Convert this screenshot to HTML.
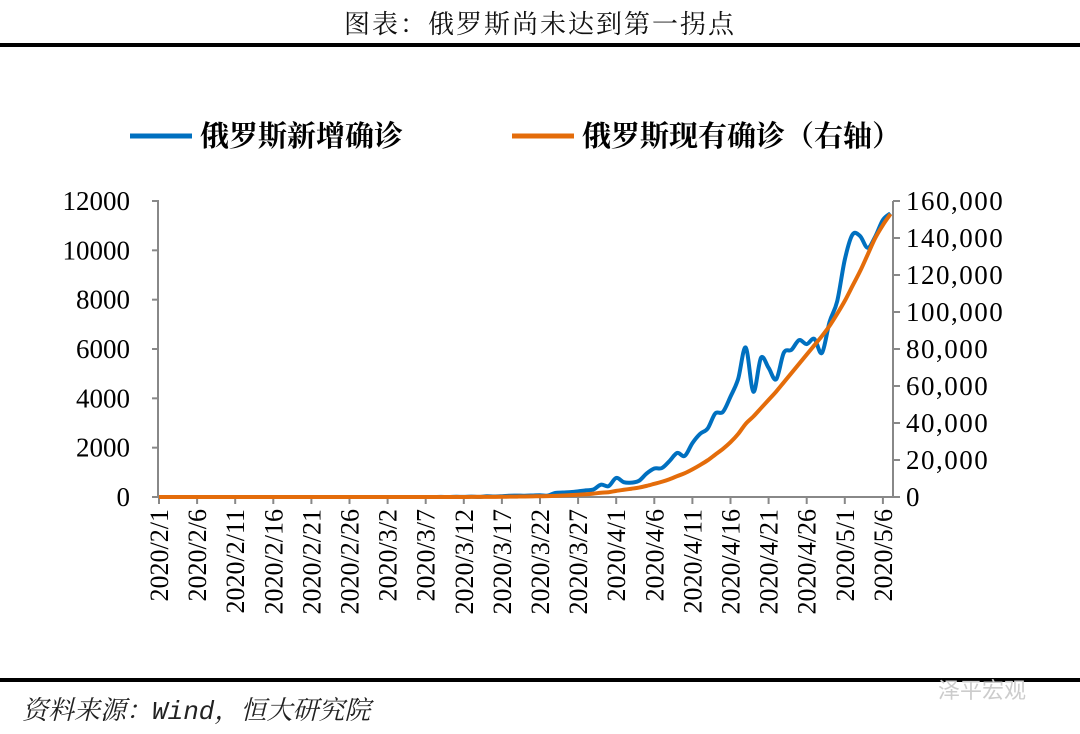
<!DOCTYPE html>
<html><head><meta charset="utf-8">
<style>
body{margin:0;background:#fff;width:1080px;height:734px;overflow:hidden;position:relative;font-family:"Liberation Serif","Noto Serif CJK SC",serif;}
#title{position:absolute;top:4px;left:0;width:1080px;text-align:center;font-size:26px;color:#111;letter-spacing:2px;font-family:"Liberation Serif","Noto Serif CJK SC",serif;}
.rule{position:absolute;left:0;width:1080px;background:#000;}
#src{position:absolute;left:22px;top:690px;font-size:26px;font-style:italic;color:#222;font-family:"Liberation Mono","Noto Serif CJK SC",serif;}
#wm{position:absolute;left:938px;top:673px;font-size:22px;color:#ccc;font-family:"Noto Sans CJK SC",sans-serif;}
</style></head><body>
<div id="title">图表：俄罗斯尚未达到第一拐点</div>
<div class="rule" style="top:43px;height:4px"></div>
<div class="rule" style="top:678px;height:4px"></div>
<div id="src">资料来源：Wind，恒大研究院</div>
<div id="wm">泽平宏观</div>
<svg id="chart" width="1080" height="734" style="position:absolute;left:0;top:0"></svg>
<script>
const startDate = [2020,2,1];
const febNew=[0,0,0,0,0,0,0,0,0,0,0,0,0,0,0,0,0,0,0,0,0,0,0,0,0,0,0,0,0];
const marNew=[0,0,0,0,0,0,0,0,3,0,8,6,14,4,30,21,33,52,54,53,61,71,57,163,182,196,228,270,302,500,440];
const aprNew=[771,601,582,658,954,1154,1175,1459,1786,1667,2186,2558,2774,3388,3448,4070,4785,6060,4268,5642,5236,4774,5849,5966,6361,6198,6411,5841,7099,7933];
const mayNew=[9623,10633,10581,10102,10559,11231,11500];
const febActive=[0,0,0,0,0,0,0,0,0,0,0,0,0,0,0,0,0,0,0,0,0,0,0,0,0,0,0,0,0];
const marActive=[0,0,0,0,0,0,0,0,10,10,18,24,38,42,72,93,126,178,232,285,346,417,474,637,819,1015,1242,1511,1812,2300,2580];
const aprActive=[3318,3911,4479,5094,6014,7128,8245,9618,11278,12871,14938,17275,19821,22919,25985,29600,34046,39591,43500,48000,52500,57000,62000,67000,72000,77000,82000,87000,92500,99000];
const mayActive=[106000,114000,122000,131000,140000,147000,153000];
const leftTicks=[0,2000,4000,6000,8000,10000,12000];
const rightTicks=["0","20,000","40,000","60,000","80,000","100,000","120,000","140,000","160,000"];
const series1=febNew.concat(marNew,aprNew,mayNew);
const series2=febActive.concat(marActive,aprActive,mayActive);
const NS='http://www.w3.org/2000/svg';
const svg=document.getElementById('chart');
const X0=159,Y0=497,YT=201,STEP=7.62;
const xS=i=>X0+i*STEP;
const yL=v=>Y0-(v/12000)*(Y0-YT);
const yR=v=>Y0-(v/160000)*(Y0-YT);
function mk(t,a){const e=document.createElementNS(NS,t);for(const k in a)e.setAttribute(k,a[k]);svg.appendChild(e);return e;}
let ax=mk('line',{x1:X0-1,y1:YT,x2:X0-1,y2:Y0,stroke:'#888','stroke-width':2});

let ar=mk('line',{x1:893,y1:YT,x2:893,y2:Y0,stroke:'#888','stroke-width':2});

let axb=mk('line',{x1:X0-7,y1:Y0,x2:893,y2:Y0,stroke:'#888','stroke-width':2});

leftTicks.forEach(v=>{const y=yL(v);
 mk('line',{x1:X0-7,y1:y,x2:X0,y2:y,stroke:'#888','stroke-width':2});
 const t=mk('text',{x:130,y:y+9,'text-anchor':'end','font-size':27,fill:'#000'});t.textContent=v;
 });
rightTicks.forEach((s,i)=>{const y=yR(i*20000);
 mk('line',{x1:893,y1:y,x2:900,y2:y,stroke:'#888','stroke-width':2});
 const t=mk('text',{x:906,y:y+9,'font-size':27,fill:'#000','letter-spacing':'1.5'});t.textContent=s;
 });
const d0=new Date(startDate[0],startDate[1]-1,startDate[2]);
for(let i=0;i<series1.length;i+=5){const x=xS(i);
 mk('line',{x1:x,y1:Y0,x2:x,y2:Y0+7,stroke:'#888','stroke-width':2});
 const d=new Date(d0.getTime()+i*86400000+3600000*12);
 const s=d.getFullYear()+'/'+(d.getMonth()+1)+'/'+d.getDate();
 const t=mk('text',{x:0,y:0,'text-anchor':'end','font-size':26,fill:'#000',transform:`translate(${x+9},${Y0+12}) rotate(-90)`});t.textContent=s;
 }
function smooth(pts){let d=`M${pts[0][0]},${pts[0][1]}`;
 for(let i=0;i<pts.length-1;i++){const p0=pts[Math.max(0,i-1)],p1=pts[i],p2=pts[i+1],p3=pts[Math.min(pts.length-1,i+2)];
  const c1=[p1[0]+(p2[0]-p0[0])/6,p1[1]+(p2[1]-p0[1])/6],c2=[p2[0]-(p3[0]-p1[0])/6,p2[1]-(p3[1]-p1[1])/6];
  d+=`C${c1[0]},${c1[1]} ${c2[0]},${c2[1]} ${p2[0]},${p2[1]}`;}return d;}
const l1=mk('path',{d:smooth(series1.map((v,i)=>[xS(i),yL(v)])),fill:'none',stroke:'#0070C0','stroke-width':4});

const l2=mk('path',{d:smooth(series2.map((v,i)=>[xS(i),yR(v)])),fill:'none',stroke:'#E46C0A','stroke-width':4});

const lg=[[130,'#0070C0','俄罗斯新增确诊'],[512,'#E46C0A','俄罗斯现有确诊（右轴）']];
lg.forEach(([x,c,s])=>{mk('line',{x1:x,y1:136,x2:x+62,y2:136,stroke:c,'stroke-width':5});
 const t=mk('text',{x:x+70,y:146,'font-size':29,'font-weight':'bold',fill:'#000','font-family':'"Noto Serif CJK SC","Noto Sans CJK SC",serif'});t.textContent=s;
 });
</script>
</body></html>
